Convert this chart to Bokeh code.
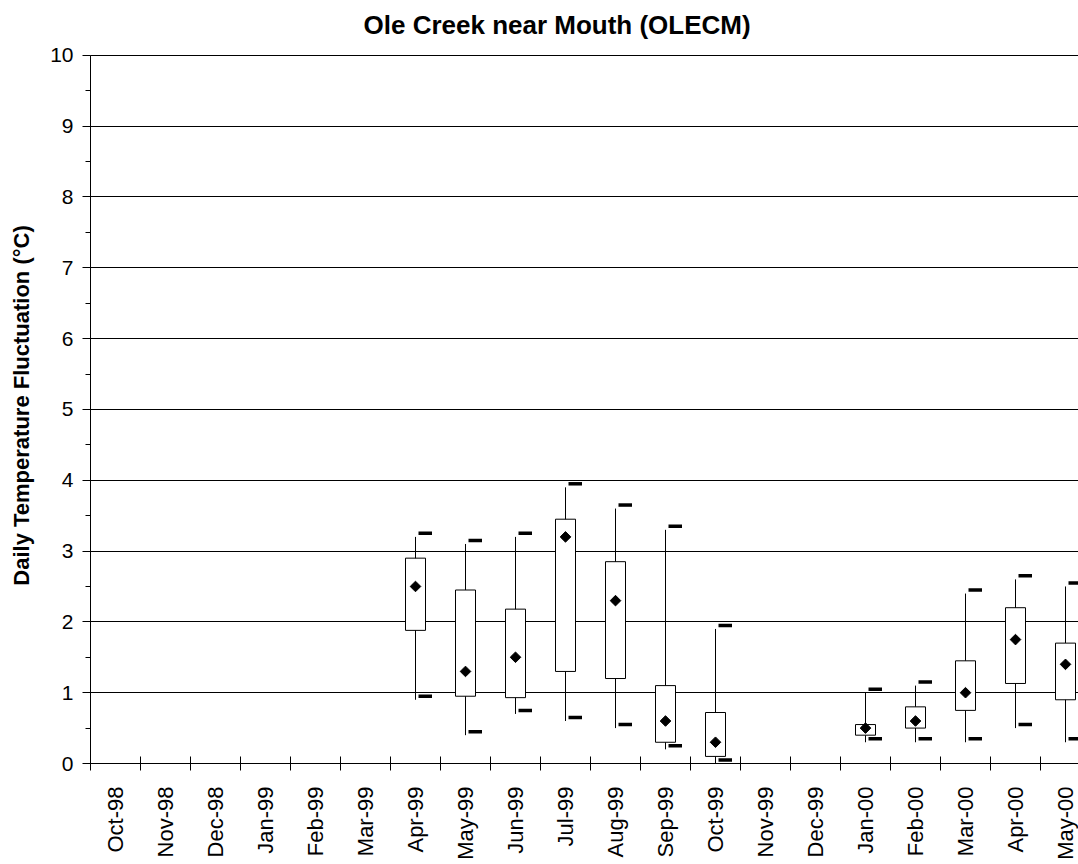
import math
from bokeh.plotting import figure
from bokeh.models import LinearAxis, FixedTicker, Range1d, ColumnDataSource
from bokeh.embed import file_html
from bokeh.resources import INLINE

# ---- data ----
months = ["Oct-98", "Nov-98", "Dec-98", "Jan-99", "Feb-99", "Mar-99", "Apr-99",
          "May-99", "Jun-99", "Jul-99", "Aug-99", "Sep-99", "Oct-99", "Nov-99",
          "Dec-99", "Jan-00", "Feb-00", "Mar-00", "Apr-00", "May-00"]
stat_months = ["Apr-99", "May-99", "Jun-99", "Jul-99", "Aug-99", "Sep-99", "Oct-99",
               "Jan-00", "Feb-00", "Mar-00", "Apr-00", "May-00"]
box_upper = [2.9, 2.45, 2.18, 3.45, 2.85, 1.1, 0.72, 0.55, 0.8, 1.45, 2.2, 1.7]
box_lower = [1.88, 0.95, 0.93, 1.3, 1.2, 0.3, 0.1, 0.4, 0.5, 0.75, 1.13, 0.9]
mean_vals = [2.5, 1.3, 1.5, 3.2, 2.3, 0.6, 0.3, 0.5, 0.6, 1.0, 1.75, 1.4]
whisk_max = [3.2, 3.1, 3.2, 3.9, 3.6, 3.3, 1.9, 1.0, 1.1, 2.4, 2.6, 2.5]
whisk_min = [0.9, 0.4, 0.7, 0.6, 0.5, 0.2, 0.0, 0.3, 0.3, 0.3, 0.5, 0.3]
dash_max = [3.25, 3.15, 3.25, 3.95, 3.65, 3.35, 1.95, 1.05, 1.15, 2.45, 2.65, 2.55]
dash_min = [0.95, 0.45, 0.75, 0.65, 0.55, 0.25, 0.05, 0.35, 0.35, 0.35, 0.55, 0.35]
y_ticks = [0, 1, 2, 3, 4, 5, 6, 7, 8, 9, 10]

FONT = "Liberation Sans"

xc = [months.index(m) + 0.5 for m in stat_months]
src = ColumnDataSource(dict(
    x=xc,
    dx0=[v + 0.06 for v in xc],
    dx1=[v + 0.33 for v in xc],
    hi=box_upper, lo=box_lower, mean=mean_vals,
    wmax=whisk_max, wmin=whisk_min, dmax=dash_max, dmin=dash_min,
))

# frame: x 90..1078, y 45..773 (72 px per unit; gridline 10 sits 8px below frame top)
p = figure(width=1078, height=862, output_backend="svg", toolbar_location=None,
           x_range=Range1d(0, 19.76), y_range=Range1d(0, 10 + 8 / 72),
           x_axis_location=None, y_axis_location=None,
           min_border_left=90, min_border_right=0, min_border_top=45,
           min_border_bottom=89)
p.outline_line_color = None
p.background_fill_color = "white"
p.border_fill_color = "white"

# title
p.title.text = "Ole Creek near Mouth (OLECM)"
p.title.text_font = FONT
p.title.text_font_size = "26px"
p.title.text_font_style = "bold"
p.title.text_color = "black"
p.title.align = "left"
p.title.offset = 273
p.title.standoff = 15

# y axis
yax = LinearAxis(ticker=FixedTicker(ticks=y_ticks,
                                    minor_ticks=[i * 0.5 for i in range(21)]),
                 bounds=(0, 10))
yax.axis_label = "Daily Temperature Fluctuation (°C)"
yax.axis_label_text_font = FONT
yax.axis_label_text_font_size = "22px"
yax.axis_label_text_font_style = "bold"
yax.axis_label_text_color = "black"
yax.axis_label_standoff = 13
yax.major_label_text_font = FONT
yax.major_label_text_font_size = "21px"
yax.major_label_text_color = "black"
yax.major_label_standoff = 9
yax.major_tick_in = 0
yax.major_tick_out = 8
yax.minor_tick_in = 0
yax.minor_tick_out = 5
yax.axis_line_color = "black"
yax.major_tick_line_color = "black"
yax.minor_tick_line_color = "black"
p.add_layout(yax, "left")

# x axis: labels at category centres, tick marks (minor) at category boundaries
centers = [i + 0.5 for i in range(len(months))]
bounds_x = [float(i) for i in range(len(months) + 1)]
xax = LinearAxis(ticker=FixedTicker(ticks=centers, minor_ticks=bounds_x))
xax.major_label_overrides = {c: m for c, m in zip(centers, months)}
xax.major_label_orientation = math.pi / 2
xax.major_label_text_font = FONT
xax.major_label_text_font_size = "22px"
xax.major_label_text_color = "black"
xax.major_label_standoff = 16
xax.major_tick_in = 0
xax.major_tick_out = 0
xax.minor_tick_in = 7
xax.minor_tick_out = 7
xax.minor_tick_line_color = "black"
xax.axis_line_color = "black"
p.add_layout(xax, "below")

# grid
p.ygrid.ticker = FixedTicker(ticks=y_ticks)
p.ygrid.grid_line_color = "black"
p.ygrid.grid_line_width = 1
p.xgrid.visible = False

# glyphs
p.segment(x0="x", y0="wmin", x1="x", y1="wmax", source=src,
          line_color="black", line_width=1)
p.vbar(x="x", width=0.4, top="hi", bottom="lo", source=src,
       fill_color="white", line_color="black", line_width=1)
p.scatter(x="x", y="mean", source=src, marker="square", angle=math.pi / 4,
          size=7.5, fill_color="black", line_color="black")
p.segment(x0="dx0", y0="dmax", x1="dx1", y1="dmax", source=src,
          line_color="black", line_width=3.5, line_cap="butt")
p.segment(x0="dx0", y0="dmin", x1="dx1", y1="dmin", source=src,
          line_color="black", line_width=3.5, line_cap="butt")

open("out.html", "w").write(file_html(p, INLINE))
